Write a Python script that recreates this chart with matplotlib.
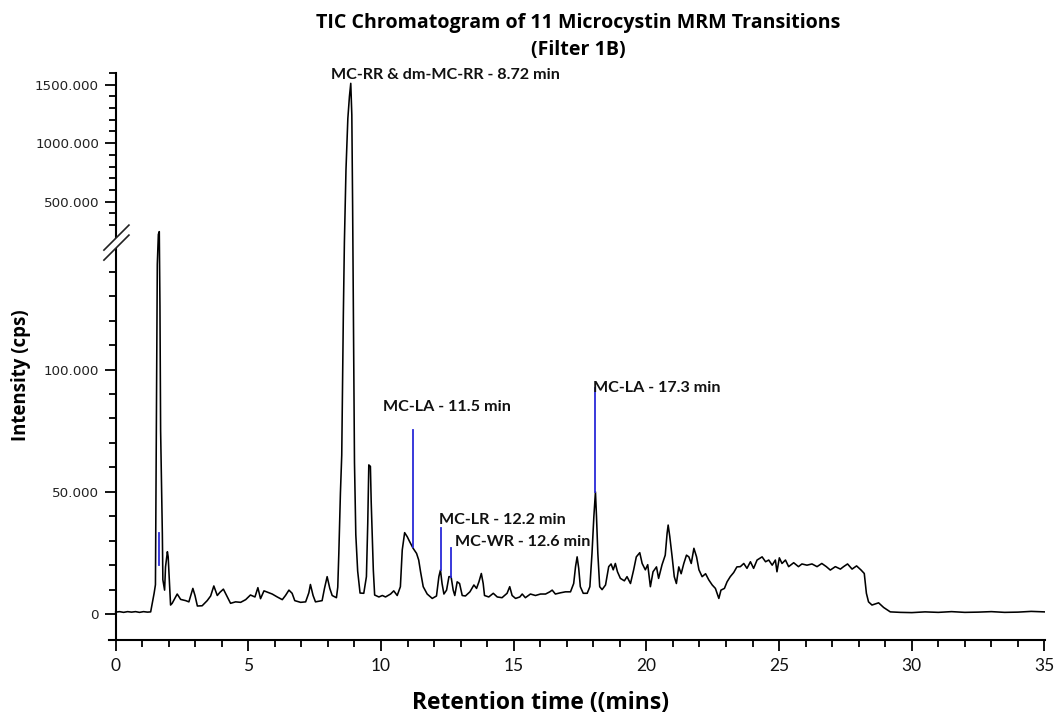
import numpy as np
import matplotlib
matplotlib.use("Agg")
import matplotlib.pyplot as plt
from matplotlib.transforms import ScaledTranslation
from matplotlib.lines import Line2D
from matplotlib.patches import Polygon

# ---------------- data ----------------
times = [
    0.00, 0.15, 0.30, 0.45, 0.60, 0.75, 0.90, 1.05, 1.20, 1.32, 1.38, 1.45, 1.50,
    1.53, 1.57, 1.61, 1.645, 1.67, 1.695, 1.76, 1.78, 1.845, 1.88, 1.95, 1.98, 2.03,
    2.07, 2.13, 2.32, 2.45, 2.64, 2.76, 2.91, 2.99, 3.08, 3.26, 3.45, 3.58, 3.70,
    3.83, 3.93, 4.06, 4.18, 4.33, 4.52, 4.71, 4.90, 5.08, 5.25, 5.36, 5.46, 5.59,
    5.78, 5.90, 6.09, 6.28, 6.40, 6.53, 6.65, 6.75, 6.97, 7.16, 7.28, 7.34, 7.44,
    7.53, 7.78, 7.87, 7.97, 8.07, 8.16, 8.32, 8.37, 8.41, 8.47, 8.52, 8.58, 8.62,
    8.68, 8.75, 8.81, 8.86, 8.90, 8.93, 8.96, 9.00, 9.05, 9.12, 9.21, 9.35, 9.45,
    9.50, 9.54, 9.60, 9.63, 9.67, 9.71, 9.76, 9.92, 10.05, 10.17, 10.36, 10.48,
    10.61, 10.73, 10.80, 10.89, 10.99, 11.08, 11.21, 11.34, 11.42, 11.49, 11.59,
    11.74, 11.93, 12.09, 12.18, 12.24, 12.30, 12.37, 12.47, 12.56, 12.64, 12.72,
    12.78, 12.87, 12.96, 13.06, 13.18, 13.35, 13.50, 13.60, 13.69, 13.78, 13.85,
    13.90, 14.06, 14.23, 14.38, 14.56, 14.75, 14.85, 14.94, 15.07, 15.23, 15.32,
    15.44, 15.63, 15.82, 16.01, 16.20, 16.36, 16.45, 16.57, 16.76, 16.95, 17.14,
    17.26, 17.33, 17.39, 17.45, 17.51, 17.62, 17.77, 17.87, 17.95, 18.02, 18.08,
    18.12, 18.17, 18.24, 18.33, 18.46, 18.58, 18.67, 18.75, 18.83, 18.91, 19.02,
    19.17, 19.27, 19.40, 19.52, 19.62, 19.75, 19.84, 19.96, 20.05, 20.15, 20.25,
    20.38, 20.46, 20.59, 20.71, 20.78, 20.82, 20.88, 20.97, 21.05, 21.13, 21.22,
    21.31, 21.41, 21.51, 21.60, 21.69, 21.79, 21.89, 21.98, 22.10, 22.23, 22.35,
    22.48, 22.60, 22.73, 22.81, 22.94, 23.04, 23.16, 23.29, 23.41, 23.54, 23.67,
    23.79, 23.92, 24.04, 24.17, 24.36, 24.49, 24.61, 24.74, 24.86, 24.92, 25.01,
    25.11, 25.24, 25.36, 25.55, 25.73, 25.86, 26.05, 26.24, 26.43, 26.61, 26.78,
    26.93, 27.12, 27.31, 27.43, 27.58, 27.75, 27.92, 28.09, 28.21, 28.29, 28.37,
    28.50, 28.75, 28.94, 29.19, 29.57, 30.00, 30.50, 31.00, 31.50, 32.00, 32.50,
    33.00, 33.50, 34.00, 34.50, 35.00,
]
intensity = [
    0.8, 1.0, 0.7, 1.0, 0.8, 1.0, 0.7, 1.0, 0.8, 0.9, 4.4, 8.5, 12.0,
    70.0, 143.0, 220.0, 244.0, 126.0, 75.0, 33.0, 14.0, 9.8, 19.3, 25.5, 23.4, 12.0,
    3.7, 4.4, 8.2, 6.0, 5.5, 5.0, 10.5, 7.6, 3.3, 3.4, 5.5, 7.4, 11.5,
    7.6, 8.9, 10.2, 7.6, 4.4, 5.0, 4.8, 5.9, 7.8, 7.0, 10.8, 6.3, 9.5,
    8.7, 8.2, 7.0, 5.9, 7.6, 9.8, 8.5, 5.5, 4.8, 5.0, 8.7, 12.1, 7.6,
    5.0, 5.5, 10.5, 15.3, 10.5, 7.6, 6.7, 11.0, 24.8, 49.4, 65.0, 122.0, 152.0,
    774.0, 1210.0, 1398.0, 1510.0, 1240.0, 463.0, 122.0, 62.0, 32.5, 17.6, 8.6, 8.5, 15.3,
    37.1, 61.0, 60.4, 45.9, 31.6, 18.0, 7.8, 7.0, 7.6, 7.0, 8.2, 9.5,
    7.6, 11.2, 26.2, 33.3, 31.6, 29.6, 26.9, 24.8, 22.1, 17.3, 11.2,
    8.2, 6.4, 7.4, 15.3, 18.0, 12.5, 8.2, 9.8, 15.3, 15.3, 9.8,
    7.6, 13.2, 12.5, 7.6, 7.4, 9.1, 11.9, 10.5, 13.2, 16.6, 12.5,
    7.6, 7.0, 8.5, 7.0, 6.7, 8.5, 11.2, 7.6, 6.4, 7.0, 8.2,
    6.7, 8.2, 7.6, 8.2, 8.2, 9.1, 9.8, 8.2, 8.7, 9.1, 9.1,
    12.5, 19.4, 23.4, 18.7, 11.2, 8.5, 8.5, 11.2, 24.8, 39.8, 50.0,
    39.8, 24.8, 11.2, 10.0, 11.9, 19.4, 20.5, 18.1, 20.7, 17.3, 14.6,
    13.6, 15.3, 12.5, 18.1, 23.4, 25.1, 20.7, 18.1, 20.2, 11.2, 17.3,
    19.3, 14.6, 20.2, 24.1, 33.0, 36.4, 31.8, 23.4, 15.3, 12.5, 19.3,
    16.5, 20.7, 24.1, 23.4, 20.7, 26.9, 23.4, 18.1, 15.3, 16.5, 14.0,
    11.9, 10.5, 6.4, 9.8, 10.5, 13.2, 15.3, 17.0, 19.3, 19.4, 20.7,
    18.7, 21.4, 18.7, 22.1, 23.4, 21.4, 22.1, 20.0, 22.1, 17.3, 23.0,
    20.7, 22.1, 19.4, 21.0, 19.4, 20.5, 20.0, 20.5, 19.4, 20.7, 19.4,
    18.0, 19.4, 18.4, 19.4, 20.5, 18.4, 19.7, 18.0, 16.6, 8.5, 5.0,
    3.7, 4.6, 2.7, 0.9, 0.7, 0.6, 0.9, 0.7, 1.0, 0.7, 0.8,
    1.0, 0.7, 0.8, 1.1, 0.9,
]

# blue marker lines: time, bottom, top
marker_t = [1.64, 11.21, 12.27, 12.64, 18.08]
marker_lo = [20.0, 27.5, 18.0, 15.3, 50.0]
marker_hi = [33.0, 75.3, 35.0, 26.9, 92.3]

# annotation labels: text, left time, centre intensity
ann_text = ["MC-RR & dm-MC-RR - 8.72 min", "MC-LA - 11.5 min", "MC-LR - 12.2 min",
            "MC-WR - 12.6 min", "MC-LA - 17.3 min"]
ann_t = [8.10, 10.09, 12.20, 12.80, 18.00]
ann_v = [1585, 84.7, 38.4, 29.4, 92.4]

ymajor = [0, 50, 100, 500, 1000, 1500]
ymajor_labels = ["0", "50.000", "100.000", "500.000", "1000.000", "1500.000"]
yminor = [10, 20, 30, 40, 60, 70, 80, 90, 110, 120, 130, 140,
          300, 400, 600, 700, 800, 900, 1100, 1200, 1300, 1400, 1600]
xmajor = [0, 5, 10, 15, 20, 25, 30, 35]
xminor = [i for i in range(36) if i % 5 != 0]

# ---------------- broken y scale ----------------
B = 152.0
K = 0.0479


def fwd(v):
    v = np.asarray(v, dtype=float)
    return np.where(v <= B, v, B + (v - B) * K)


def inv(f):
    f = np.asarray(f, dtype=float)
    return np.where(f <= B, f, B + (f - B) / K)


W, H = 1056, 715
fig = plt.figure(figsize=(W / 100, H / 100), dpi=100)
left_px, right_px, top_px, bot_px = 109, 1045, 72.8, 640
ax = fig.add_axes([left_px / W, 1 - bot_px / H, (right_px - left_px) / W, (bot_px - top_px) / H])
ax.set_yscale('function', functions=(fwd, inv))
ax.set_xlim(-0.25, 35.02)
ax.set_ylim(-10.6, 1600)

ax.plot(times, intensity, color='black', lw=1.15, zorder=3)
for t, lo, hi in zip(marker_t, marker_lo, marker_hi):
    ax.plot([t, t], [lo, hi], color='#2a2ad8', lw=1.3, zorder=4)

for txt, t, v in zip(ann_text, ann_t, ann_v):
    ax.text(t, v, txt, ha='left', va='center', fontsize=11.6, fontweight='bold',
            family='Lato', color='#111111', zorder=6)

for s in ['top', 'right']:
    ax.spines[s].set_visible(False)
ax.spines['left'].set_position(('data', 0))
ax.spines['left'].set_linewidth(1.5)
ax.spines['bottom'].set_linewidth(1.5)

ax.set_yticks(ymajor)
ax.set_yticklabels(ymajor_labels, fontsize=9.7, family='DejaVu Sans', color='#222222')
ax.set_yticks(yminor, minor=True)
ax.set_xticks(xmajor)
ax.set_xticklabels([str(x) for x in xmajor], fontsize=12.5, family='Lato', color='#111111')
ax.set_xticks(xminor, minor=True)
ax.tick_params(axis='y', which='major', length=8, width=1.3, pad=4, direction='out')
ax.tick_params(axis='y', which='minor', length=5, width=1.3, direction='out')
ax.tick_params(axis='x', which='major', length=8, width=1.3, pad=5, direction='out')
ax.tick_params(axis='x', which='minor', length=5, width=1.3, direction='out')

# axis break mark on the y axis
bt = fig.dpi_scale_trans + ScaledTranslation(0, B, ax.transData)
l1 = [(-0.117, -0.077), (0.133, 0.173)]
l2 = [(-0.117, -0.177), (0.133, 0.073)]
ax.add_patch(Polygon([l1[0], l1[1], l2[1], l2[0]], closed=True, transform=bt,
                     facecolor='white', edgecolor='none', clip_on=False, zorder=5))
for ln in (l1, l2):
    ax.add_line(Line2D([ln[0][0], ln[1][0]], [ln[0][1], ln[1][1]], transform=bt,
                       color='#222222', lw=1.2, clip_on=False, zorder=6))

fig.text(578 / W, 1 - 23 / H, "TIC Chromatogram of 11 Microcystin MRM Transitions",
         ha='center', va='center', fontsize=14.1, fontweight='bold', family='Open Sans')
fig.text(578 / W, 1 - 50 / H, "(Filter 1B)", ha='center', va='center',
         fontsize=14.1, fontweight='bold', family='Open Sans')
fig.text(541 / W, 1 - 703 / H, "Retention time ((mins)", ha='center', va='center',
         fontsize=16.5, fontweight='bold', family='Open Sans')
fig.text(21 / W, 1 - 375 / H, "Intensity (cps)", ha='center', va='center', rotation=90,
         fontsize=13.4, fontweight='bold', family='Open Sans')

fig.savefig("out.png", dpi=100)
